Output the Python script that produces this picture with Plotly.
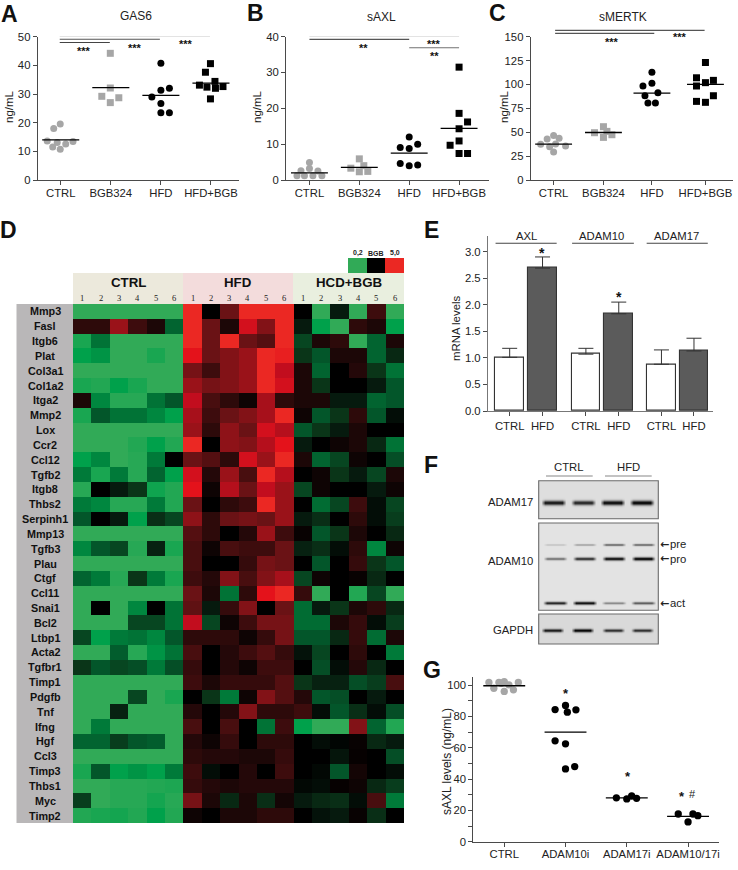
import numpy as np
import plotly.graph_objects as go

W, H = 738, 870
FONT = "Liberation Sans"
INK = "#222222"
AXC = "#4a4a4a"
GREY = "#a6a6a6"

# ---------- scatter panels ----------
GROUPS = ["CTRL", "BGB324", "HFD", "HFD+BGB"]

gas6_vals = [[19.5, 18, 13.6, 13.1, 13.4, 12.6, 11.5, 10.7], [44.2, 32.1, 29.2, 28.7, 27],
             [40.7, 32, 31.3, 29, 26.7, 23.5, 23.5], [40.6, 37.6, 34.4, 33.1, 32.4, 32, 32.6, 28.3]]
gas6_off = [[-0.01, -0.14, -0.27, -0.07, 0.245, 0.1, -0.16, -0.01], [-0.01, -0.01, -0.18, 0.16, -0.01],
            [0, 0.17, 0, -0.18, 0, 0, 0.17], [-0.01, -0.11, 0.08, -0.23, -0.08, 0.09, 0.24, -0.01]]
gas6_means = [14, 32.2, 29.5, 33.8]

saxl_vals = [[4.9, 2.6, 2.5, 3.2, 1.2, 1.2, 1.2, 1.2], [5.9, 3.3, 4, 2.3, 2.4],
             [12, 10, 9.1, 8.8, 4.6, 4, 4.2], [31.5, 18.6, 16.2, 14.3, 9.7, 10.9, 7.4, 7.4]]
saxl_off = [[0, -0.17, 0.17, 0, -0.25, -0.1, 0.07, 0.25], [0, -0.17, 0.09, 0, 0.17],
            [0, 0.17, -0.18, 0, -0.18, 0, 0.17], [0, 0, 0.17, 0, -0.18, 0, 0, 0.17]]
saxl_means = [2, 3.5, 7.5, 14.4]

smertk_vals = [[46.7, 43.6, 42.9, 37.3, 37.7, 34.9, 35.6, 29.3], [55.8, 49.5, 50.9, 44.6, 47.4],
               [112.7, 101.2, 98.4, 91.4, 88.2, 80.6, 80.6], [123, 107, 104.3, 101.9, 98.4, 88.2, 82.3, 81.3]]
smertk_off = [[0, 0.11, -0.13, -0.26, 0.04, -0.08, 0.24, 0], [0, -0.18, 0.07, 0, 0.17],
              [0, 0, -0.18, 0.12, -0.14, -0.08, 0.07], [0, -0.18, 0.16, 0, -0.18, 0.16, -0.18, 0]]
smertk_means = [37.5, 49.7, 91, 100]

G_GROUPS = ["CTRL", "ADAM10i", "ADAM17i", "ADAM10/17i"]
g_vals = [[101.7, 101.7, 102.3, 101.7, 100.2, 98, 97, 96, 101.2], [87, 84.4, 84.2, 82.7, 64.4, 62.5, 48, 46.5],
          [28, 27.3, 29.2, 27.7], [17.7, 17.7, 16.6, 12.6]]
g_off = [[-0.25, -0.087, 0, 0.23, 0.076, -0.17, 0.15, 0, -0.05], [0, -0.17, 0.17, 0.03, -0.17, 0, 0.15, 0],
         [-0.17, 0, 0.08, 0.16], [-0.16, 0.08, 0.16, 0]]
g_means = [99.6, 70, 28, 16.2]

# ---------- bar panel ----------
BAR_LABELS = ["CTRL", "HFD", "CTRL", "HFD", "CTRL", "HFD"]
bar_pos = [0, 1, 2.32, 3.32, 4.62, 5.61]
bar_vals = [1.01, 2.69, 1.07, 1.83, 0.88, 1.13]
bar_err = [0.17, 0.21, 0.11, 0.22, 0.27, 0.24]
BAR_GROUPS = ["AXL", "ADAM10", "ADAM17"]

# ---------- heatmap ----------
GENES = ["Mmp3", "Fasl", "Itgb6", "Plat", "Col3a1", "Col1a2", "Itga2", "Mmp2", "Lox", "Ccr2", "Ccl12", "Tgfb2",
         "Itgb8", "Thbs2", "Serpinh1", "Mmp13", "Tgfb3", "Plau", "Ctgf", "Ccl11", "Snai1", "Bcl2", "Ltbp1",
         "Acta2", "Tgfbr1", "Timp1", "Pdgfb", "Tnf", "Ifng", "Hgf", "Ccl3", "Timp3", "Thbs1", "Myc", "Timp2"]
heat_values = [
    [-10, -10, -10, -10, -10, -10, 10, 0, 5, 10, 10, 10, 0, -10, -1, -10, 3, -10],
    [2, 2, 7, 3, 1, -6, 10, 5, 1, 9, 6, 10, -1, -9, -10, 2, 1, -9],
    [-9.5, -7, -10, -10, -10, -10, 10, 5, 10, 5, 4, 10, -4, 1, 2, -10, -6, 1],
    [-9, -8.5, -10, -10, -9.5, -10, 9.5, 5, 6, 7, 10, 9.8, -3, -5, 1, 1, -6, -2],
    [-10, -10, -10, -10, -10, -10, 5.5, 3, 6, 7, 10, 8.5, 1, -6, 0, 1.5, -3, -7],
    [-9.5, -9.7, -9, -9.5, -10, -10, 7, 5.5, 6, 7, 10, 9, 1, -3, 0, 0, -1, -5],
    [1, -8, -9.8, -9.8, -7, -5, 8.5, 3.5, 2, 0.5, 7.5, 2, 1, 1, -1, -1, -6, -5],
    [-9.5, -5, -7, -7, -8, -9, 7.5, 3, 5, 6, 7.5, 10, 0.5, -5, -3, 2, -5, -0.5],
    [-10, -10, -10, -10, -10, -10, 7, 2, 6.5, 5, 9, 8, -5, -3, -1, 1, 0, 0],
    [-10, -10, -10, -9.7, -9, -9.7, 10, 0, 6.5, 6, 8, 9.5, -1, 0, 0.5, 1, -2, -7],
    [-9, -8, -10, -9.8, -7.5, 0, 5, 4, 2, 9, 7, 10, 1, -6, -4, 0.5, 0, -4.5],
    [-7.5, -9.5, -7.5, -9.8, -6, -9, 9, 1.5, 7, 3.5, 10, 8, 0, 0.5, -3, -1, -4, 1],
    [-9.8, 0, -1, -3, -9.3, -9.7, 9.5, 0.5, 8, 5, 8.5, 7, -4, 0.5, 0, 0, -1, 0.5],
    [-7.5, -8, -9.8, -9.8, -7.5, -9.7, 5, 0, 2, 3, 10, 7, 0, -6.5, -4, 3, -0.5, -4],
    [-5, 0, -1, -9, -2.5, -4, 6.5, 2, 5, 5.5, 5, 7, -1, -2.5, 0, 2, -0.5, -3.5],
    [-10, -10, -10, -10, -10, -10, 4, 2, 0, 1.5, 7, 3, 0.3, -5, -3, 1, 0, -2],
    [-8, -5, -4, -9.8, -1.5, -9.5, 3.5, 0.5, 3.5, 3, 3, 5, -1.5, -2.5, -0.5, 2, -8, 0.5],
    [-10, -10, -10, -10, -10, -10, 3.5, 0, 0, 2.5, 5.5, 5, 0, -5, 0, 2.5, -3, -5],
    [-6, -7.5, -9.8, -3, -7.5, -9.5, 3, 1.5, 6, 3.5, 6, 7.5, -4, 0.5, 0, 0.3, -2, 0],
    [-10, -10, -10, -10, -10, -10, 5, 1, -7, 2, 9.5, 10, 2.5, -10, 0, -9.7, -4, -10],
    [-10, 0, -10, -8, 0, -7, 4.5, -1, 2.5, 6, 0, 5, -6.5, -1, -3, 1, 2, -2],
    [-10, -10, -10, -4, -4, -7, 8.5, -4, 0.5, 3, 5.5, 5.5, -6.5, -6.5, 1, 2.5, -0.5, -3.5],
    [-4, -9, -7.5, -7, -8, -5, 2, 2, 2, 0.5, 2.5, 5.5, -5, -5, -2, 2.5, -6.5, 1],
    [-10, -10, -5.5, -9.8, -8.5, -7, 3.5, 0, 1.5, 3, 4, 2.5, -0.7, -4, 0, 2, 0, -7.5],
    [-3, -5, -4, -4.5, -7.5, -4.5, 2.5, 0, 1.5, 0.5, 3, 3, 0, -4.5, -0.5, 1.5, -2, 0],
    [-10, -10, -10, -10, -10, -10, 3, 1, 2.5, 2.5, 2.5, 4, -3, -1.5, -1.5, -4.5, -3.5, 3.5],
    [-10, -10, -10, -4, -10, -9.5, 0, -3, -7.5, 0.5, 6, 4, 1.5, -5, -4.5, 0, -1, 0],
    [-10, -10, -1.5, -10, -10, -10, 1.5, 0, 1.5, 6, 2, 2, 3, -0.5, -5, -2.5, -0.5, -4.5],
    [-10, -7.5, -10, -10, -10, -10, 3.5, 0, 3.5, 0, -7, 3, -9, -10, -10, 6, -6, -9.7],
    [-6, -6, -3.5, -5, -5.5, -10, 1.5, 0.5, 2.5, 0, 2, 2, 0, -0.5, -0.2, 0.3, -2, -1],
    [-10, -10, -10, -10, -10, -10, 2, 1.5, 1.5, 1, 1, 2.5, 0, 0, -0.8, 0.2, 0, -4.5],
    [-9.5, -5, -9, -8.5, -9, -7.5, 3, -0.5, 0, 1.5, 0, 3, 0, -0.3, -5, 0.7, 0, -0.5],
    [-10, -10, -9.8, -9.8, -9.7, -9.6, 2.5, 1.5, 1, 1.5, 1.5, 1.5, -0.3, -0.5, 0.2, 0.5, -2, -3.5],
    [-3.5, -10, -9.8, -9.8, -9.4, -9.8, 5.5, 1, -2, 1, -2.5, 0.7, -1, -2, -2.5, -0.5, 3.5, -7.5],
    [-9.7, -9.5, -9.4, -9.7, -9, -9.7, 0.5, 0, 1, 1, 2, 2, 0, -0.7, -1, 0.3, -2.5, 0],
]
key_values = [-10, 0, 10]
HEAT_SCALE = [(-10, "#31aa57"), (-9, "#00a14b"), (-7.5, "#007a39"), (-5, "#03562a"), (-3, "#0a3518"),
              (-1, "#061a0e"), (0, "#000000"), (1, "#1c0707"), (3, "#3d0c0d"), (5, "#6a1215"),
              (7, "#9a1219"), (8.5, "#c20d1e"), (9.5, "#e4121b"), (10, "#eb2823")]
colorscale = [[(v + 10) / 20, c] for v, c in HEAT_SCALE]

# ---------- western blot band strengths, per lane ----------
adam17_band = [0.92, 0.85, 0.97, 1.0]
adam10_pre = [0.15, 0.3, 0.55, 0.55]
adam10_pro = [0.5, 0.8, 0.95, 1.0]
adam10_act = [0.85, 0.95, 0.4, 0.6]
gapdh_band = [0.9, 1.0, 0.8, 0.8]

fig = go.Figure()
layout = {}
annotations = []
shapes = []
axis_no = [0]
LETTER = 23


def fx(p):
    return p / W


def fy(p):
    return 1 - p / H


def text(x, y, s, size=11, bold=False, color=INK, angle=0, anchor="center", family=FONT):
    annotations.append(dict(xref="paper", yref="paper", x=fx(x), y=fy(y), text=f"<b>{s}</b>" if bold else s,
                            showarrow=False, xanchor=anchor, yanchor="middle", textangle=angle,
                            font=dict(family=family, size=size, color=color), borderpad=0, borderwidth=0))


def stars(x, y, s, size=12):
    text(x, y + size * 0.24, s, size=size, bold=True, color="#111111")


def new_axes(left, right, top, bottom, xr, yr, xa=None, ya=None):
    axis_no[0] += 1
    n = axis_no[0]
    sx = "" if n == 1 else str(n)
    layout[f"xaxis{sx}"] = dict(domain=[fx(left), fx(right)], range=xr, anchor=f"y{sx}", **(xa or {}))
    layout[f"yaxis{sx}"] = dict(domain=[fy(bottom), fy(top)], range=yr, anchor=f"x{sx}", **(ya or {}))
    return f"x{sx}", f"y{sx}"


def axis_style(tickvals, ticktext):
    return dict(tickmode="array", tickvals=tickvals, ticktext=ticktext, ticks="outside", ticklen=4, tickwidth=1,
                tickcolor=AXC, showline=True, linecolor=AXC, linewidth=1, showgrid=False, zeroline=False,
                tickfont=dict(family=FONT, size=11.3, color=INK))


def scatter_panel(left, right, top, bottom, x_left, x_right, y_max, yticks, ylabels, groups, pos, vals, offs, means,
                  half=0.37, msize=7):
    xa = axis_style(pos, groups)
    xa["ticklabelstandoff"] = -2
    ya = axis_style(yticks, ylabels)
    xr, yr = new_axes(left, right, top, bottom, [x_left, x_right], [0, y_max], xa, ya)
    for i, (p, v, o) in enumerate(zip(pos, vals, offs)):
        sym = "square" if (i % 2 == 1 and groups is GROUPS and i == 1) or (i == 3 and groups is GROUPS) else "circle"
        col = GREY if (i < 2 and groups is GROUPS) or (i == 0 and groups is not GROUPS) else "#000000"
        fig.add_trace(go.Scatter(x=[p + d for d in o], y=v, mode="markers", xaxis=xr, yaxis=yr, cliponaxis=False,
                                 marker=dict(symbol=sym, size=msize, color=col, line=dict(width=0)),
                                 showlegend=False, hoverinfo="skip"))
    for p, m in zip(pos, means):
        fig.add_trace(go.Scatter(x=[p - half, p + half], y=[m, m], mode="lines", xaxis=xr, yaxis=yr, cliponaxis=False,
                                 line=dict(color="#000000", width=1.3), showlegend=False, hoverinfo="skip"))
    return xr, yr


def sig_line(xr, yr, x0, x1, y, color="#555555", width=1.1):
    fig.add_trace(go.Scatter(x=[x0, x1], y=[y, y], mode="lines", xaxis=xr, yaxis=yr, cliponaxis=False,
                             line=dict(color=color, width=width), showlegend=False, hoverinfo="skip"))


# Panel A
xr, yr = scatter_panel(37.7, 239, 36.7, 180, -0.46, 3.56, 50, [0, 10, 20, 30, 40, 50], ["0", "10", "20", "30", "40", "50"],
                       GROUPS, [0, 1, 2, 3], gas6_vals, gas6_off, gas6_means)
sig_line(xr, yr, -0.02, 2.98, 50.1, "#909090")
sig_line(xr, yr, -0.02, 1.98, 49.1, "#555555")
sig_line(xr, yr, -0.02, 0.98, 48, "#444444")
text(136, 16, "GAS6", 12)
text(9, 107, "ng/mL", 11.5, angle=-90)
text(9, 14, "A", LETTER, True, "#111111")
stars(84, 48, "***", 11)
stars(135, 45, "***", 11)
stars(186, 41.5, "***", 11)

# Panel B
xr, yr = scatter_panel(286, 489, 36.7, 180, -0.47, 3.6, 40, [0, 10, 20, 30, 40], ["0", "10", "20", "30", "40"],
                       GROUPS, [0, 1, 2, 3], saxl_vals, saxl_off, saxl_means)
sig_line(xr, yr, 0, 3, 40.1, "#909090")
sig_line(xr, yr, 0, 2, 39.25, "#555555")
sig_line(xr, yr, 2, 3, 36.9, "#707070")
text(381, 17, "sAXL", 12)
text(257, 107, "ng/mL", 11.5, angle=-90)
text(255, 13, "B", LETTER, True, "#111111")
stars(363, 45, "**", 11)
stars(434.5, 41, "***", 11)
stars(434.5, 53, "**", 11)

# Panel C
xr, yr = scatter_panel(530.7, 733, 36.7, 180, -0.46, 3.6, 150, [0, 25, 50, 75, 100, 125, 150],
                       ["0", "25", "50", "75", "100", "125", "150"],
                       GROUPS, [0, 1, 1.973, 3.047], smertk_vals, smertk_off, smertk_means)
hidden = dict(visible=False)
xr2, yr2 = new_axes(530.7, 733, 20, 180, [-0.46, 3.6], [0, 167.5], hidden, hidden)
sig_line(xr2, yr2, 0.03, 3.03, 156.6, "#555555")
sig_line(xr2, yr2, 0.03, 2.02, 153.5, "#555555")
text(622.7, 17, "sMERTK", 12)
text(504, 107, "ng/mL", 11.5, angle=-90)
text(497, 13, "C", LETTER, True, "#111111")
stars(611.5, 39, "***", 11)
stars(680, 34, "***", 11)

# Panel G
g_ticks = [0, 10, 20, 30, 40, 50, 60, 70, 80, 90, 100]
g_lab = ["0", "", "20", "", "40", "", "60", "", "80", "", "100"]
scatter_panel(473.3, 719.3, 677.3, 841.7, -0.505, 3.505 + 0.005, 105, g_ticks, g_lab, G_GROUPS, [0, 1, 2, 3], g_vals, g_off, g_means,
              half=0.342, msize=7.3)
text(447, 762, "sAXL levels (ng/mL)", 12, angle=-90)
text(431.7, 670, "G", LETTER, True, "#111111")
stars(565.5, 690, "*", 13)
stars(627.5, 773.5, "*", 13)
stars(682, 793.5, "*", 13)
text(692, 794, "#", 11)

# Panel E
xa = axis_style(bar_pos, BAR_LABELS)
xa["linewidth"] = 1.2
xa["linecolor"] = "#777777"
ya = axis_style([0, 0.5, 1, 1.5, 2, 2.5, 3], ["0.0", "0.5", "1.0", "1.5", "2.0", "2.5", "3.0"])
ya["linecolor"] = "#777777"
ya["linewidth"] = 1.2
xr, yr = new_axes(488, 712.7, 235.7, 411, [-0.66, 6.18], [0, 3.3], xa, ya)
fig.add_trace(go.Bar(x=bar_pos, y=bar_vals, width=0.87, xaxis=xr, yaxis=yr, cliponaxis=False,
                     marker=dict(color=["#ffffff", "#5b5b5b"] * 3, line=dict(color="#333333", width=1.1)),
                     error_y=dict(type="data", symmetric=False, array=bar_err, arrayminus=[0] * 6, width=7.5,
                                  thickness=1, color="#333333"),
                     showlegend=False, hoverinfo="skip"))
sig_line(xr, yr, -0.43, 1.43, 3.157, "#444444")
sig_line(xr, yr, 1.9, 3.78, 3.157, "#444444")
sig_line(xr, yr, 4.17, 6.03, 3.157, "#444444")
text(526, 236, BAR_GROUPS[0], 11.3)
text(601.5, 236, BAR_GROUPS[1], 11.3)
text(676, 236, BAR_GROUPS[2], 11.3)
text(456, 328, "mRNA levels", 11.4, angle=-90)
text(431, 230, "E", LETTER, True, "#111111")
stars(542, 250, "*", 14)
stars(619, 294, "*", 14)

# Panel D heatmap
ax = dict(visible=False, fixedrange=True)
xr, yr = new_axes(73, 404, 304, 823, [-0.5, 17.5], [34.5, -0.5], ax, ax)
fig.add_trace(go.Heatmap(z=heat_values, x=list(range(18)), y=list(range(35)), xaxis=xr, yaxis=yr, zmin=-10, zmax=10,
                         colorscale=colorscale, showscale=False, hoverinfo="skip", xgap=0, ygap=0))
xr, yr = new_axes(348, 404, 258, 273, [-0.5, 2.5], [-0.5, 0.5], ax, ax)
fig.add_trace(go.Heatmap(z=[key_values], xaxis=xr, yaxis=yr, zmin=-10, zmax=10, colorscale=colorscale,
                         showscale=False, hoverinfo="skip"))
text(358, 253, "0,2", 7, True)
text(376, 253, "BGB", 7, True)
text(395, 253, "5,0", 7, True)
text(8.5, 230, "D", LETTER, True, "#111111")
for x0, x1, c, lab in [(73, 183, "#ece9dc", "CTRL"), (183, 293, "#f3dcdc", "HFD"), (293, 404, "#e9efdf", "HCD+BGB")]:
    shapes.append(dict(type="rect", xref="paper", yref="paper", x0=fx(x0), x1=fx(x1), y0=fy(273), y1=fy(304),
                       fillcolor=c, line_width=0, layer="below"))
    text((x0 + x1) / 2, 283, lab, 13.3, True, "#111111")
shapes.append(dict(type="rect", xref="paper", yref="paper", x0=fx(16.5), x1=fx(73), y0=fy(304), y1=fy(823),
                   fillcolor="#b9b7b8", line_width=0, layer="below"))
for i, g in enumerate(GENES):
    text(45, 304 + (i + 0.5) * 519 / 35, g, 10.8, True, "#111111")
for c in range(18):
    text(73 + (c + 0.5) * 331 / 18, 298, str(c % 6 + 1), 8.5, False, "#222222", family="Liberation Serif")

# Panel F blots
ax_f = dict(visible=False)
xr, yr = new_axes(538, 659, 480, 645, [538, 659], [645, 480], ax_f, ax_f)
gx = np.arange(538.5, 659.5, 1.0)
gy = np.arange(480.5, 645.5, 1.0)
XX, YY = np.meshgrid(gx, gy)
img = np.ones_like(XX)
boxes = [(538.7, 658.3, 480.7, 518.7, 0.87), (538.7, 658.3, 523, 610.3, 0.89), (538.7, 658.3, 614, 644, 0.85)]
for x0, x1, y0, y1, bg in boxes:
    img[(XX > x0) & (XX < x1) & (YY > y0) & (YY < y1)] = bg


def add_bands(lanes, yc, strengths, sy, hw):
    global img
    for lx, s in zip(lanes, strengths):
        prof_x = np.clip((hw - np.abs(XX - lx)) / 4.0 + 0.5, 0, 1)
        prof_y = np.exp(-((YY - yc) / (sy * (0.65 + 0.5 * s))) ** 2)
        img = img * (1 - 0.97 * s * prof_x * prof_y)


add_bands([554, 583.7, 613, 642.3], 503, adam17_band, 2.1, 10.5)
add_bands([555.7, 585, 614.3, 643.7], 545, adam10_pre, 1.2, 10)
add_bands([555.7, 585, 614.3, 643.7], 559, adam10_pro, 1.5, 10)
add_bands([555.7, 585, 614.3, 643.7], 603.3, adam10_act, 1.4, 10.5)
add_bands([553, 583, 613.7, 642.7], 630.7, gapdh_band, 1.5, 9.5)
fig.add_trace(go.Heatmap(z=img, x=gx, y=gy, xaxis=xr, yaxis=yr, zmin=0, zmax=1, showscale=False, hoverinfo="skip",
                         colorscale=[[0, "#000000"], [1, "#ffffff"]]))
for x0, x1, y0, y1, bg in boxes:
    shapes.append(dict(type="rect", xref=xr, yref=yr, x0=x0, x1=x1, y0=y0, y1=y1, line=dict(color="#6a6a6a", width=1.1)))
for x0, x1 in [(546, 592.7), (605, 651.7)]:
    shapes.append(dict(type="line", xref="paper", yref="paper", x0=fx(x0), x1=fx(x1), y0=fy(476), y1=fy(476),
                       line=dict(color="#888888", width=1.1)))
text(569, 467, "CTRL", 11.3)
text(628.7, 467, "HFD", 11.3)
text(532.5, 501.7, "ADAM17", 11.3, anchor="right")
text(532.5, 561, "ADAM10", 11.3, anchor="right")
text(532.5, 629.7, "GAPDH", 11.3, anchor="right")
text(430.7, 465, "F", LETTER, True, "#111111")
for y, lab in [(544, "pre"), (558.5, "pro"), (603, "act")]:
    text(659.5, y, "←", 11, True, anchor="left", family="DejaVu Sans")
    text(670, y, lab, 11.3, anchor="left")

layout.update(width=W, height=H, margin=dict(l=0, r=0, t=0, b=0, pad=0, autoexpand=False), autosize=False,
              paper_bgcolor="white", plot_bgcolor="rgba(0,0,0,0)", showlegend=False, annotations=annotations,
              shapes=shapes, font=dict(family=FONT, color=INK), bargap=0)
fig.update_layout(**layout)
fig.write_html("out.html", config=dict(displayModeBar=False),
               post_script="document.body.style.margin='0';document.body.style.overflow='hidden';")
